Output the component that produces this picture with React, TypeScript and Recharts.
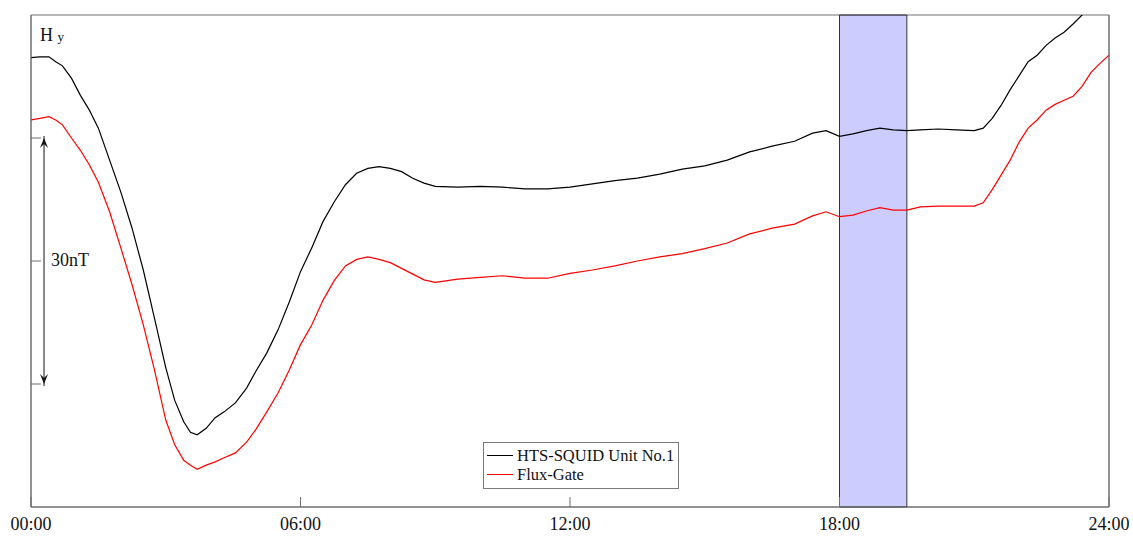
import { LineChart, Line, XAxis, YAxis, ReferenceArea, ReferenceLine } from "recharts"

// time of day in hours
const hours = [
  0, 0.2, 0.4, 0.55, 0.7, 0.9, 1.1, 1.3, 1.5, 1.75, 2.0, 2.25, 2.5, 2.75, 3.0, 3.2, 3.4, 3.55, 3.7, 3.9,
  4.1, 4.3, 4.55, 4.8, 5.0, 5.25, 5.5, 5.75, 6.0, 6.25, 6.5, 6.75, 7.0, 7.25, 7.5, 7.75, 8.0, 8.25, 8.5, 8.75,
  9.0, 9.5, 10, 10.5, 11, 11.5, 12, 12.5, 13, 13.5, 14, 14.5, 15, 15.5, 16, 16.5, 17, 17.4, 17.7, 18,
  18.3, 18.6, 18.9, 19.2, 19.5, 19.8, 20.2, 20.6, 21.0, 21.2, 21.4, 21.6, 21.8, 22.0, 22.2, 22.4, 22.6, 22.8, 23.0, 23.2,
  23.4, 23.6, 23.8, 24,
]

// H_y in nT (relative offset)
const squid = [
  54.8, 54.9, 54.9, 54.3, 53.8, 52.3, 50.2, 48.4, 46.2, 42.3, 38.4, 34.0, 28.9, 23.0, 17.0, 13.0, 10.4, 9.1, 8.8, 9.6,
  10.9, 11.6, 12.7, 14.5, 16.5, 18.8, 21.6, 25.0, 28.7, 31.6, 34.8, 37.2, 39.3, 40.7, 41.3, 41.5, 41.3, 40.9, 40.1, 39.5,
  39.1, 39.0, 39.1, 39.0, 38.8, 38.8, 39.0, 39.4, 39.8, 40.1, 40.6, 41.2, 41.6, 42.3, 43.3, 44.0, 44.6, 45.6, 45.9, 45.2,
  45.5, 45.9, 46.2, 46.0, 45.9, 46.0, 46.1, 46.0, 45.9, 46.2, 47.4, 49.0, 50.9, 52.6, 54.3, 55.1, 56.3, 57.2, 57.9, 58.9,
  60.0, 60.9, 61.6, 62.3,
]

const fluxGate = [
  47.2, 47.4, 47.6, 47.2, 46.6, 45.0, 43.5, 41.7, 39.6, 36.0, 31.6, 27.1, 22.2, 16.7, 10.6, 7.6, 5.7, 5.1, 4.6, 5.1,
  5.5, 6.0, 6.6, 7.9, 9.4, 11.6, 13.9, 16.7, 19.8, 22.2, 25.2, 27.6, 29.4, 30.2, 30.5, 30.2, 29.8, 29.1, 28.4, 27.7,
  27.4, 27.8, 28.0, 28.2, 27.9, 27.9, 28.5, 28.9, 29.4, 30.0, 30.5, 30.9, 31.5, 32.2, 33.3, 34.0, 34.5, 35.5, 36.0, 35.4,
  35.6, 36.1, 36.5, 36.2, 36.2, 36.6, 36.7, 36.7, 36.7, 37.1, 38.7, 40.5, 42.3, 44.5, 46.2, 47.2, 48.4, 49.1, 49.6, 50.1,
  51.3, 53.0, 54.1, 55.1,
]

const xTicks = [0, 6, 12, 18, 24]
const yTicks = [15, 30, 45]

const data = hours.map((h, i) => ({ h, squid: squid[i], flux: fluxGate[i] }))

const font = "'Liberation Serif', 'Times New Roman', serif"
const axisColor = "#6e6e6e"

function formatHour(value: number) {
  return `${String(value).padStart(2, "0")}:00`
}

function ScaleArrow(props: any) {
  const { x1, y1, x2, y2 } = props
  return (
    <g>
      <line x1={x1} y1={y1 + 2} x2={x2} y2={y2 - 2} stroke="#111" strokeWidth={1} />
      <path d={`M${x2 - 4},${y2 + 10} L${x2},${y2} L${x2 + 4},${y2 + 10} L${x2},${y2 + 6} Z`} fill="#111" />
      <path d={`M${x1 - 4},${y1 - 10} L${x1},${y1} L${x1 + 4},${y1 - 10} L${x1},${y1 - 6} Z`} fill="#111" />
    </g>
  )
}

export default function App() {
  return (
    <div style={{ position: "relative", width: 1133, height: 537, background: "#fff" }}>
      <style>{`body{margin:0}`}</style>
      <LineChart width={1133} height={537} data={data} margin={{ top: 15, right: 0, bottom: 0, left: 0 }}>
        <XAxis
          dataKey="h"
          type="number"
          domain={[0, 24]}
          ticks={xTicks}
          tickFormatter={formatHour}
          height={30}
          tickSize={-10}
          tickMargin={20}
          stroke={axisColor}
          tick={{ fill: "#111", fontFamily: font, fontSize: 18 }}
        />
        <YAxis
          yAxisId="left"
          type="number"
          domain={[0, 60]}
          ticks={yTicks}
          allowDataOverflow
          width={31}
          tickSize={-10}
          tickFormatter={() => ""}
          stroke={axisColor}
        />
        <YAxis
          yAxisId="right"
          orientation="right"
          type="number"
          domain={[0, 60]}
          ticks={yTicks}
          width={24}
          tickSize={-10}
          tickFormatter={() => ""}
          stroke={axisColor}
        />
        <ReferenceArea yAxisId="left" x1={0} x2={24} y1={0} y2={60} fill="none" stroke={axisColor} />
        <Line
          yAxisId="left"
          type="linear"
          dataKey="squid"
          stroke="#000"
          strokeWidth={1.2}
          dot={false}
          isAnimationActive={false}
        />
        <Line
          yAxisId="left"
          type="linear"
          dataKey="flux"
          stroke="#ff0000"
          strokeWidth={1.2}
          dot={false}
          isAnimationActive={false}
        />
        <ReferenceArea
          yAxisId="left"
          x1={18}
          x2={19.5}
          y1={0}
          y2={60}
          fill="#0000ff"
          fillOpacity={0.2}
          stroke="#333"
          strokeWidth={1}
        />
        <ReferenceLine
          yAxisId="left"
          segment={[
            { x: 0.29, y: 15 },
            { x: 0.29, y: 45 },
          ]}
          shape={ScaleArrow}
        />
      </LineChart>
      <div
        style={{
          position: "absolute",
          left: 483,
          top: 442,
          border: "1px solid #7a7a7a",
          background: "#fff",
          padding: "3px 4px 4px 3px",
          fontFamily: font,
          fontSize: 16.5,
          lineHeight: "19px",
          color: "#111",
        }}
      >
        <div style={{ display: "flex", alignItems: "center" }}>
          <span style={{ width: 26, height: 1, background: "#000", marginRight: 4 }} />
          HTS-SQUID Unit No.1
        </div>
        <div style={{ display: "flex", alignItems: "center" }}>
          <span style={{ width: 26, height: 1, background: "#ff0000", marginRight: 4 }} />
          Flux-Gate
        </div>
      </div>
      <div style={{ position: "absolute", left: 40, top: 25, fontFamily: font, fontSize: 18, color: "#111" }}>
        H <span style={{ fontSize: 13 }}>y</span>
      </div>
      <div style={{ position: "absolute", left: 51, top: 250, fontFamily: font, fontSize: 18, color: "#111" }}>
        30nT
      </div>
    </div>
  )
}
